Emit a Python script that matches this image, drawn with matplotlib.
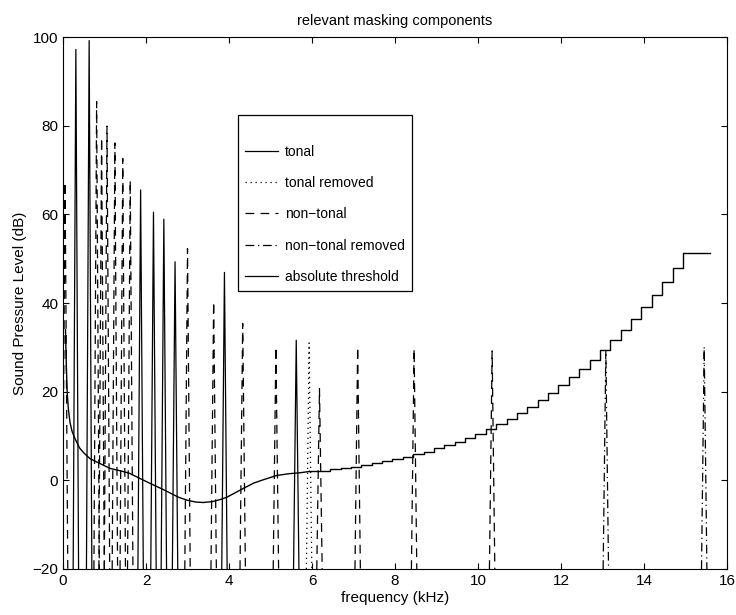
import numpy as np
import matplotlib
matplotlib.use('Agg')
import matplotlib.pyplot as plt
from matplotlib.lines import Line2D

plt.rcParams['font.family'] = ['Liberation Sans', 'DejaVu Sans']
plt.rcParams['font.size'] = 10

# masking components (frequency kHz, level dB)
tonal_f = [0.31, 0.63, 1.87, 2.18, 2.43, 2.70, 3.89, 5.62]
tonal_db = [97.2, 99.2, 65.5, 60.5, 58.9, 49.3, 46.9, 31.6]
tonal_rm_f = [5.93]
tonal_rm_db = [31.0]
nontonal_f = [0.05, 0.81, 0.93, 1.06, 1.25, 1.44, 1.62, 3.00, 3.63, 4.33,
              5.13, 6.18, 7.10, 8.46, 10.34]
nontonal_db = [67.3, 85.4, 77.3, 79.9, 76.1, 72.6, 67.7, 52.3, 40.3, 35.4,
               30.1, 20.7, 30.1, 29.7, 29.2]
nontonal_rm_f = [13.08, 15.45]
nontonal_rm_db = [29.3, 30.1]

# absolute threshold, smooth part
ath_f = [0.06, 0.08, 0.10, 0.13, 0.17, 0.22, 0.29, 0.4, 0.5, 0.65, 0.8, 1.0,
         1.13, 1.4, 1.6, 1.86, 2.1, 2.4, 2.78, 3.0, 3.2, 3.38, 3.6, 3.8,
         3.95, 4.15, 4.35, 4.6, 4.85, 5.15, 5.45, 5.71, 5.9375]
ath_db = [34, 26, 20, 16, 13, 11, 9.4, 7.3, 6.2, 4.9, 4.2, 3.3,
          2.7, 2.1, 1.6, 0.4, -0.7, -2.0, -3.8, -4.5, -4.9, -5.0, -4.8, -4.3,
          -3.8, -2.8, -1.8, -0.6, 0.2, 1.1, 1.5, 1.7, 2.0]
# absolute threshold, stepped part
step_f = [5.9375, 6.1875, 6.4375, 6.6875, 6.9375, 7.1875, 7.4375, 7.6875,
          7.9375, 8.1875, 8.4375, 8.6875, 8.9375, 9.1875, 9.4375, 9.6875,
          9.9375, 10.1875, 10.4375, 10.6875, 10.9375, 11.1875, 11.4375,
          11.6875, 11.9375, 12.1875, 12.4375, 12.6875, 12.9375, 13.1875,
          13.4375, 13.6875, 13.9375, 14.1875, 14.4375, 14.6875, 14.9375, 15.6]
step_db = [2.0, 2.2, 2.5, 2.8, 3.1, 3.5, 3.9, 4.3,
           4.8, 5.3, 5.9, 6.5, 7.2, 7.9, 8.7, 9.6,
           10.5, 11.5, 12.7, 13.9, 15.2, 16.5, 18.1,
           19.7, 21.4, 23.3, 25.2, 27.2, 29.3, 31.6,
           33.9, 36.3, 39.0, 41.8, 44.8, 47.9, 51.2, 51.2]

hw = 0.065  # half width of each spike (one FFT bin)
lw = 0.9
st_tonal = '-'
st_tonal_rm = (0, (1, 3))
st_nt = (0, (7, 5))
st_nt_rm = (0, (7, 3, 1, 3))

fig = plt.figure(figsize=(7.36, 6.15), dpi=100)
ax = fig.add_axes([0.0856, 0.0748, 0.9022, 0.865])

def spikes(freqs, levels, ls):
    for f, l in zip(freqs, levels):
        ax.plot([f - hw, f, f + hw], [-20, l, -20], color='k', lw=lw, ls=ls)

spikes(tonal_f, tonal_db, st_tonal)
spikes(tonal_rm_f, tonal_rm_db, st_tonal_rm)
spikes(nontonal_f, nontonal_db, st_nt)
spikes(nontonal_rm_f, nontonal_rm_db, st_nt_rm)

ax.plot(ath_f, ath_db, color='k', lw=1.0)
ax.plot(step_f, step_db, color='k', lw=1.0, drawstyle='steps-post')

ax.set_xlim(0, 16)
ax.set_ylim(-20, 100)
ax.set_xticks(np.arange(0, 17, 2))
ax.set_yticks(np.arange(-20, 101, 20))
ax.tick_params(direction='in', top=True, right=True, length=4, labelsize=11)
ax.set_xlabel('frequency (kHz)', fontsize=11, labelpad=2)
ax.set_ylabel('Sound Pressure Level (dB)', fontsize=11, labelpad=4)
ax.set_title('relevant masking components', fontsize=10.5, pad=9)

handles = [Line2D([], [], color='k', lw=lw, ls=st_tonal),
           Line2D([], [], color='k', lw=lw, ls=st_tonal_rm),
           Line2D([], [], color='k', lw=lw, ls=st_nt),
           Line2D([], [], color='k', lw=lw, ls=st_nt_rm),
           Line2D([], [], color='k', lw=lw, ls='-')]
labels = ['tonal', 'tonal removed', 'non\u2212tonal', 'non\u2212tonal removed',
          'absolute threshold']
leg = ax.legend(handles, labels, loc='upper left', bbox_to_anchor=(0.2636, 0.853),
                fontsize=10, frameon=True, fancybox=False, edgecolor='k',
                framealpha=1, labelspacing=1.25, handlelength=2.4,
                handletextpad=0.5, borderpad=0.5, borderaxespad=0,
                title=' ', title_fontsize=4)
leg.get_frame().set_linewidth(0.9)

fig.savefig('out.png', dpi=100)
